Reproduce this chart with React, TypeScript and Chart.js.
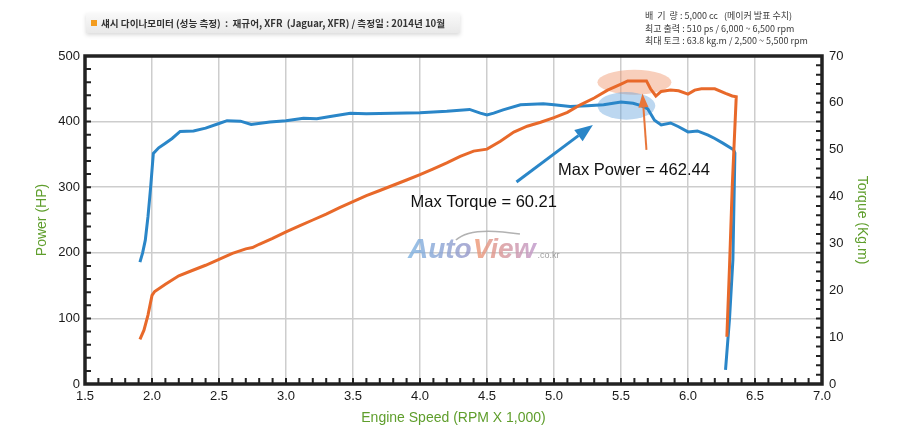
import React, { useEffect, useRef } from 'react';
import { Chart, registerables } from 'chart.js';

Chart.register(...registerables);

// ---------------- data ----------------
const powerRpm = [1.91, 1.94, 1.97, 2.0, 2.02, 2.1, 2.2, 2.3, 2.4, 2.5, 2.6, 2.7, 2.75, 2.8, 2.9, 3.0, 3.1, 3.2, 3.3, 3.4, 3.5, 3.6, 3.7, 3.8, 3.9, 4.0, 4.1, 4.2, 4.3, 4.4, 4.5, 4.6, 4.7, 4.8, 4.9, 5.0, 5.1, 5.2, 5.3, 5.4, 5.5, 5.55, 5.69, 5.72, 5.76, 5.8, 5.87, 5.93, 6.0, 6.05, 6.1, 6.2, 6.28, 6.33, 6.36, 6.33, 6.31, 6.29];
const powerHp = [68, 82, 105, 135, 141, 152, 165, 173, 181, 190, 199, 206, 208, 213, 222, 232, 241, 250, 259, 269, 278, 287, 295, 303, 311, 319, 328, 337, 347, 355, 358, 370, 384, 393, 399, 406, 414, 426, 436, 448, 457, 462, 462, 450, 439, 446, 448, 447, 442, 448, 450, 450, 443, 439, 438, 300, 180, 72];

const torqueRpm = [1.91, 1.93, 1.95, 1.97, 1.99, 2.01, 2.05, 2.1, 2.15, 2.21, 2.31, 2.4, 2.5, 2.56, 2.66, 2.74, 2.88, 3.0, 3.13, 3.23, 3.33, 3.48, 3.6, 3.8, 4.0, 4.2, 4.37, 4.45, 4.5, 4.55, 4.62, 4.75, 4.92, 5.0, 5.12, 5.25, 5.37, 5.5, 5.59, 5.65, 5.7, 5.75, 5.8, 5.87, 5.93, 6.0, 6.07, 6.15, 6.2, 6.26, 6.34, 6.35, 6.335, 6.31, 6.28];
const torqueKgm = [26.0, 28.0, 30.7, 35.7, 42.0, 49.2, 50.4, 51.4, 52.4, 53.9, 54.0, 54.6, 55.6, 56.2, 56.1, 55.4, 55.9, 56.2, 56.7, 56.6, 57.1, 57.8, 57.7, 57.8, 57.9, 58.2, 58.6, 57.8, 57.4, 57.8, 58.5, 59.6, 59.8, 59.6, 59.2, 59.4, 59.6, 60.2, 59.9, 59.4, 58.7, 56.3, 55.3, 55.7, 54.9, 53.8, 54.0, 53.1, 52.4, 51.4, 50.0, 49.3, 26.5, 14.0, 3.0];

const rpmRange = [1.5, 7.0];
const rpmStep = 0.5;
const hpRange = [0, 500];
const hpStep = 100;
const kgmRange = [0, 70];
const kgmStep = 10;

const headerText = '섀시 다이나모미터 (성능 측정)  :  재규어, XFR  (Jaguar, XFR) / 측정일 : 2014년 10월';
const specLines = [
  '배  기  량 : 5,000 cc   (메이커 발표 수치)',
  '최고 출력 : 510 ps / 6,000 ~ 6,500 rpm',
  '최대 토크 : 63.8 kg.m / 2,500 ~ 5,500 rpm',
];
const maxPowerLabel = 'Max Power = 462.44';
const maxTorqueLabel = 'Max Torque = 60.21';

// annotation anchors in data units (rpm, HP)
const powerEllipse = { x: 5.6, y: 460, rx: 0.276, ry: 19 };
const torqueEllipse = { x: 5.54, y: 424, rx: 0.216, ry: 21 };
const powerArrow = { x1: 5.69, y1: 357, x2: 5.66, y2: 443 };
const torqueArrow = { x1: 4.72, y1: 308, x2: 5.29, y2: 395 };
const powerLabelAt = { x: 5.03, y: 325 };
const torqueLabelAt = { x: 3.93, y: 276 };
const watermarkAt = { x: 3.91, y: 192 };

const ORANGE = '#e8692a';
const BLUE = '#2a86c8';
const GREEN = '#5f9e2c';
const FONT = '"Liberation Sans", Arial, Helvetica, sans-serif';
const KFONT = '"Noto Sans CJK KR", "Noto Sans", sans-serif';

function drawArrow(ctx: CanvasRenderingContext2D, x1: number, y1: number, x2: number, y2: number, color: string, w: number, hl: number, hw: number) {
  const ang = Math.atan2(y2 - y1, x2 - x1);
  const bx = x2 - Math.cos(ang) * hl;
  const by = y2 - Math.sin(ang) * hl;
  ctx.strokeStyle = color;
  ctx.fillStyle = color;
  ctx.lineWidth = w;
  ctx.lineCap = 'butt';
  ctx.beginPath();
  ctx.moveTo(x1, y1);
  ctx.lineTo(bx, by);
  ctx.stroke();
  ctx.beginPath();
  ctx.moveTo(x2, y2);
  ctx.lineTo(bx + Math.sin(ang) * hw, by - Math.cos(ang) * hw);
  ctx.lineTo(bx - Math.sin(ang) * hw, by + Math.cos(ang) * hw);
  ctx.closePath();
  ctx.fill();
}

const overlay = {
  id: 'dynoOverlay',
  beforeDatasetsDraw(chart: any) {
    const { ctx, scales } = chart;
    const x = scales.x;
    const y = scales.y;
    ctx.save();
    // watermark
    const wx = x.getPixelForValue(watermarkAt.x);
    const wy = y.getPixelForValue(watermarkAt.y);
    ctx.font = `italic bold 28px ${FONT}`;
    ctx.textBaseline = 'alphabetic';
    ctx.textAlign = 'left';
    const autoW = ctx.measureText('Auto').width;
    const viewW = ctx.measureText('View').width;
    let g = ctx.createLinearGradient(wx, 0, wx + autoW, 0);
    g.addColorStop(0, 'rgba(125,178,225,0.8)');
    g.addColorStop(1, 'rgba(150,150,200,0.8)');
    ctx.fillStyle = g;
    ctx.fillText('Auto', wx, wy);
    const vx = wx + autoW + 1;
    g = ctx.createLinearGradient(vx, 0, vx + viewW, 0);
    g.addColorStop(0, 'rgba(240,150,110,0.8)');
    g.addColorStop(1, 'rgba(190,150,200,0.8)');
    ctx.fillStyle = g;
    ctx.fillText('View', vx, wy);
    ctx.font = `9px ${FONT}`;
    ctx.fillStyle = 'rgba(150,150,150,0.9)';
    ctx.fillText('.co.kr', vx + viewW + 2, wy);
    ctx.strokeStyle = 'rgba(170,170,170,0.9)';
    ctx.lineWidth = 1.5;
    ctx.beginPath();
    ctx.moveTo(wx + 48, wy - 18);
    ctx.quadraticCurveTo(wx + 62, wy - 32, wx + 112, wy - 24);
    ctx.stroke();

    // ellipses
    const drawEll = (e: any, color: string) => {
      const cx = x.getPixelForValue(e.x);
      const cy = y.getPixelForValue(e.y);
      const rx = Math.abs(x.getPixelForValue(e.x + e.rx) - cx);
      const ry = Math.abs(y.getPixelForValue(e.y + e.ry) - cy);
      ctx.fillStyle = color;
      ctx.beginPath();
      ctx.ellipse(cx, cy, rx, ry, 0, 0, Math.PI * 2);
      ctx.fill();
    };
    drawEll(powerEllipse, 'rgba(238,140,95,0.42)');
    drawEll(torqueEllipse, 'rgba(95,160,220,0.42)');
    ctx.restore();
  },
  afterDatasetsDraw(chart: any) {
    const { ctx, scales } = chart;
    const x = scales.x;
    const y = scales.y;
    ctx.save();
    drawArrow(ctx, x.getPixelForValue(torqueArrow.x1), y.getPixelForValue(torqueArrow.y1), x.getPixelForValue(torqueArrow.x2), y.getPixelForValue(torqueArrow.y2), BLUE, 3, 18, 7);
    drawArrow(ctx, x.getPixelForValue(powerArrow.x1), y.getPixelForValue(powerArrow.y1), x.getPixelForValue(powerArrow.x2), y.getPixelForValue(powerArrow.y2), '#e8763a', 2, 14, 5);
    ctx.fillStyle = '#111';
    ctx.font = `16.5px ${FONT}`;
    ctx.textAlign = 'left';
    ctx.textBaseline = 'middle';
    ctx.fillText(maxPowerLabel, x.getPixelForValue(powerLabelAt.x), y.getPixelForValue(powerLabelAt.y));
    ctx.fillText(maxTorqueLabel, x.getPixelForValue(torqueLabelAt.x), y.getPixelForValue(torqueLabelAt.y));
    ctx.restore();
  },
  afterDraw(chart: any) {
    const { ctx, chartArea, scales } = chart;
    const { left, right, top, bottom } = chartArea;
    const x = scales.x;
    const y = scales.y;
    const y1 = scales.y1;
    ctx.save();
    // minor ticks (inward)
    ctx.strokeStyle = '#222';
    ctx.lineWidth = 2;
    ctx.beginPath();
    for (let i = 0; i <= 25; i++) {
      const py = y.getPixelForValue(i * 20);
      ctx.moveTo(left, py);
      ctx.lineTo(left + 6, py);
    }
    for (let i = 0; i <= 35; i++) {
      const py = y1.getPixelForValue(i * 2);
      ctx.moveTo(right - 6, py);
      ctx.lineTo(right, py);
    }
    for (let i = 15; i <= 70; i++) {
      const px = x.getPixelForValue(i / 10);
      ctx.moveTo(px, bottom - 6);
      ctx.lineTo(px, bottom);
    }
    ctx.stroke();
    // frame
    ctx.lineWidth = 3.5;
    ctx.strokeStyle = '#222';
    ctx.strokeRect(left, top, right - left, bottom - top);

    // header panel
    const hg = ctx.createLinearGradient(0, 12, 0, 34);
    hg.addColorStop(0, 'rgba(250,250,250,1)');
    hg.addColorStop(1, 'rgba(232,232,232,1)');
    ctx.shadowColor = 'rgba(0,0,0,0.15)';
    ctx.shadowBlur = 4;
    ctx.shadowOffsetY = 2;
    ctx.fillStyle = hg;
    ctx.fillRect(86, 13, 374, 20);
    ctx.shadowColor = 'transparent';
    ctx.fillStyle = '#f39c1e';
    ctx.fillRect(91, 20, 6, 6);
    ctx.fillStyle = '#333';
    ctx.font = `bold 9.6px ${KFONT}`;
    ctx.textAlign = 'left';
    ctx.textBaseline = 'middle';
    ctx.fillText(headerText, 101, 23.5);

    // spec lines
    ctx.font = `9px ${KFONT}`;
    ctx.fillStyle = '#3a3a3a';
    const specY = [16, 29, 41];
    specLines.forEach((t, i) => ctx.fillText(t, 645, specY[i]));
    ctx.restore();
  },
};

export default function App() {
  const ref = useRef<HTMLCanvasElement | null>(null);
  useEffect(() => {
    if (!ref.current) return;
    const tickFont = { family: FONT, size: 13 };
    const chart = new Chart(ref.current, {
      type: 'line',
      data: {
        datasets: [
          {
            label: 'Power (HP)',
            data: powerRpm.map((r, i) => ({ x: r, y: powerHp[i] })),
            borderColor: ORANGE,
            backgroundColor: ORANGE,
            borderWidth: 3,
            pointRadius: 0,
            tension: 0,
            yAxisID: 'y',
          },
          {
            label: 'Torque (Kg.m)',
            data: torqueRpm.map((r, i) => ({ x: r, y: torqueKgm[i] })),
            borderColor: BLUE,
            backgroundColor: BLUE,
            borderWidth: 3,
            pointRadius: 0,
            tension: 0,
            yAxisID: 'y1',
          },
        ],
      },
      options: {
        responsive: false,
        animation: false,
        layout: { padding: { top: 56, left: 0, right: 0, bottom: 0 } },
        plugins: { legend: { display: false }, tooltip: { enabled: false } },
        scales: {
          x: {
            type: 'linear',
            min: rpmRange[0],
            max: rpmRange[1],
            ticks: {
              stepSize: rpmStep,
              autoSkip: false,
              maxRotation: 0,
              padding: 5,
              color: '#1a1a1a',
              font: tickFont,
              callback: (v: any) => Number(v).toFixed(1),
            },
            grid: { color: '#cdcdcd', lineWidth: 1.5, drawTicks: false },
            border: { display: false },
            title: {
              display: true,
              text: 'Engine Speed (RPM X 1,000)',
              color: GREEN,
              font: { family: FONT, size: 14 },
              padding: { top: 0, bottom: 9.6 },
            },
            afterFit: (s: any) => { s.height = 52; },
          },
          y: {
            position: 'left',
            min: hpRange[0],
            max: hpRange[1],
            ticks: { stepSize: hpStep, padding: 5, color: '#1a1a1a', font: tickFont },
            grid: { color: '#cdcdcd', lineWidth: 1.5, drawTicks: false },
            border: { display: false },
            title: {
              display: true,
              text: 'Power (HP)',
              color: GREEN,
              font: { family: FONT, size: 14 },
              padding: { top: 33.6, bottom: 0 },
            },
            afterFit: (s: any) => { s.width = 85; },
          },
          y1: {
            position: 'right',
            min: kgmRange[0],
            max: kgmRange[1],
            ticks: { stepSize: kgmStep, padding: 7, color: '#1a1a1a', font: tickFont },
            grid: { display: false, drawTicks: false },
            border: { display: false },
            title: {
              display: true,
              text: 'Torque (Kg.m)',
              color: GREEN,
              font: { family: FONT, size: 14 },
              padding: { top: 29.6, bottom: 0 },
            },
            afterFit: (s: any) => { s.width = 78; },
          },
        },
      },
      plugins: [overlay],
    } as any);
    return () => chart.destroy();
  }, []);

  return (
    <div style={{ position: 'fixed', left: 0, top: 0, width: 900, height: 436, background: '#fff' }}>
      <canvas ref={ref} width={900} height={436} style={{ display: 'block' }} />
    </div>
  );
}
